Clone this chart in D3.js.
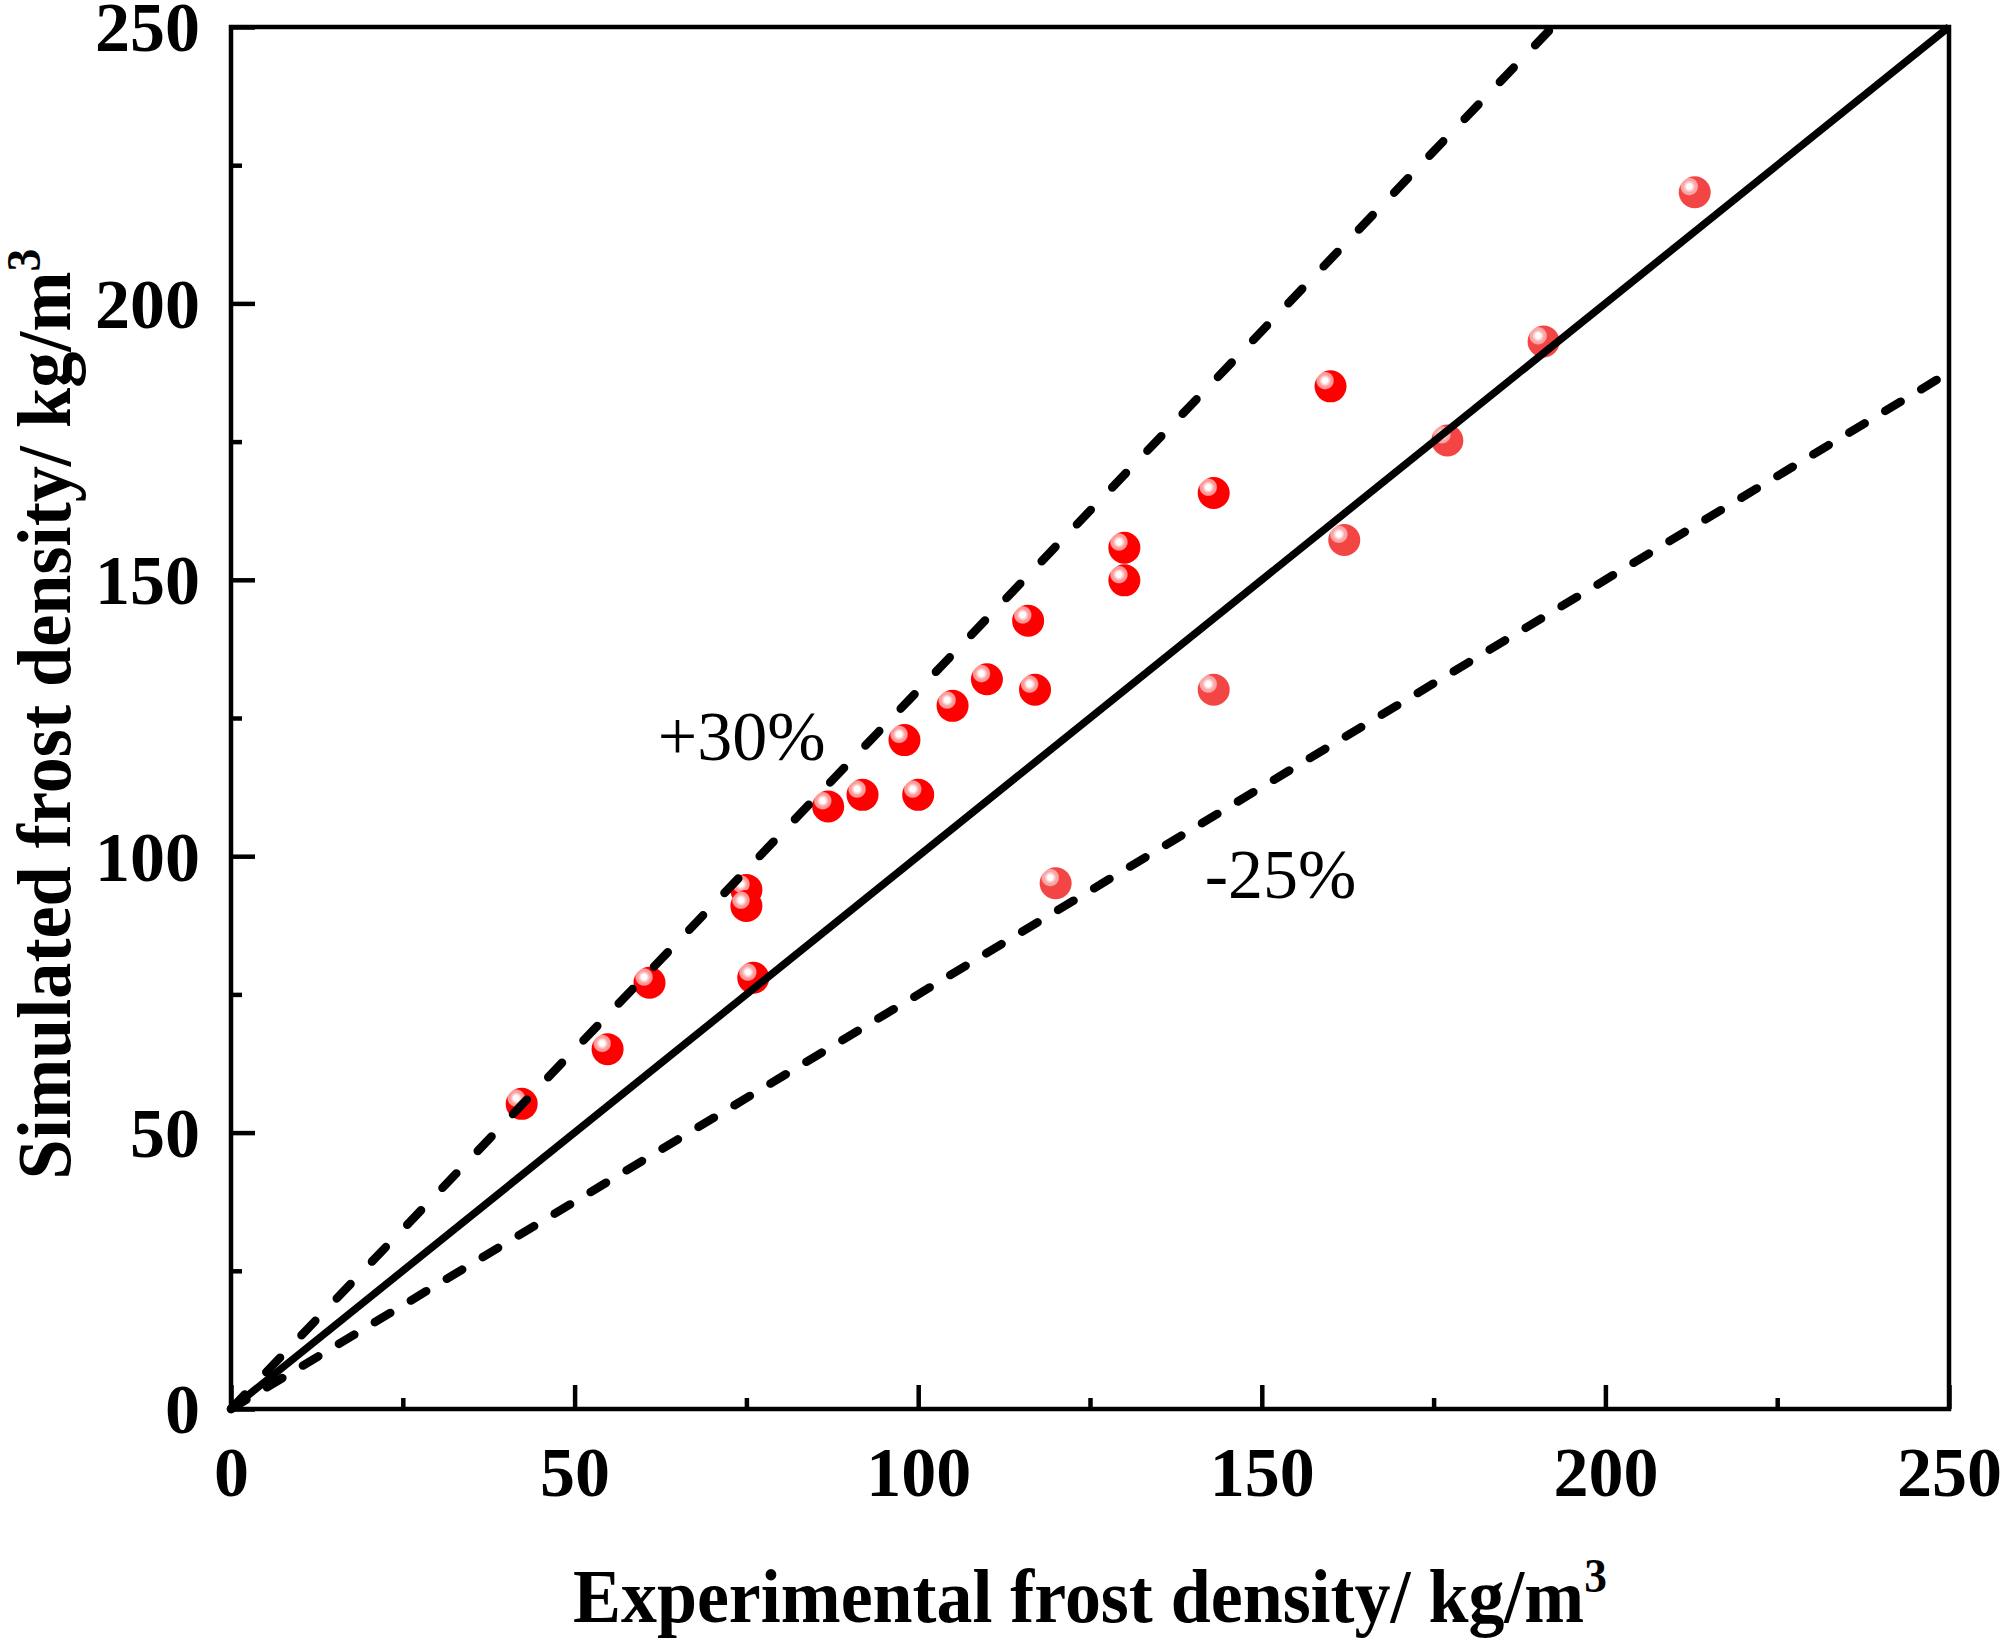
<!DOCTYPE html>
<html>
<head>
<meta charset="utf-8">
<script src="https://cdn.jsdelivr.net/npm/d3@7"></script>
<style>
  body { margin: 0; background: #fff; }
  svg { display: block; }
</style>
</head>
<body>
<script>
// experimental (x) vs simulated (y) frost density, kg/m3
const expBright = [42.3, 54.8, 60.9, 75.0, 75.0, 76.0, 86.9, 91.9, 98.0, 100.0, 105.0, 110.0, 116.0, 117.0, 130.0, 130.0, 143.0, 160.0];
const simBright = [55.2, 65.1, 77.1, 93.9, 91.0, 78.0, 109.0, 111.1, 121.0, 111.1, 127.2, 132.0, 142.6, 130.1, 155.8, 149.9, 165.7, 185.0];
const expLight = [120.0, 143.0, 162.0, 177.0, 191.0, 213.0];
const simLight = [95.1, 130.1, 157.2, 175.2, 193.1, 220.1];
const bandFactors = [1.3, 0.75];          // +30% / -25% lines
const bandLabels = ["+30%", "-25%"];
const bandLabelPos = [[62.1, 117.4], [141.7, 92.4]]; // data coords, label start / baseline
const majorTicks = [0, 50, 100, 150, 200, 250];
const minorTicks = [25, 75, 125, 175, 225];

const W = 2000, H = 1639;
const m = { left: 231, right: 2000 - 1949, top: 27, bottom: 1639 - 1409 };

const svg = d3.select('body').append('svg')
  .attr('width', W)
  .attr('height', H);

const x = d3.scaleLinear().domain([0, 250]).range([m.left, W - m.right]);
const y = d3.scaleLinear().domain([0, 250]).range([H - m.bottom, m.top]);

// sphere-like marker gradients
const defs = svg.append('defs');
function ball(id, base, halo) {
  const g = defs.append('radialGradient').attr('id', id)
    .attr('cx', 0.33).attr('cy', 0.32).attr('fx', 0.33).attr('fy', 0.32).attr('r', 0.29);
  g.append('stop').attr('offset', 0).attr('stop-color', '#ffffff');
  g.append('stop').attr('offset', 0.28).attr('stop-color', '#ffffff');
  g.append('stop').attr('offset', 0.42).attr('stop-color', '#ffd8d8');
  g.append('stop').attr('offset', 0.66).attr('stop-color', halo);
  g.append('stop').attr('offset', 0.86).attr('stop-color', halo);
  g.append('stop').attr('offset', 1).attr('stop-color', base);
}
ball('ballBright', '#ff0000', '#ff9a9a');
ball('ballLight', '#f44545', '#f9a6a6');

const plot = svg.append('g');

plot.selectAll('circle.light')
  .data(d3.zip(expLight, simLight))
  .join('circle')
  .attr('class', 'light')
  .attr('cx', d => x(d[0]))
  .attr('cy', d => y(d[1]))
  .attr('r', 16)
  .attr('fill', 'url(#ballLight)');

plot.selectAll('circle.bright')
  .data(d3.zip(expBright, simBright))
  .join('circle')
  .attr('class', 'bright')
  .attr('cx', d => x(d[0]))
  .attr('cy', d => y(d[1]))
  .attr('r', 16)
  .attr('fill', 'url(#ballBright)');

// 1:1 line
const line = d3.line().x(d => x(d[0])).y(d => y(d[1]));
plot.append('path')
  .attr('d', line([[0, 0], [250, 250]]))
  .attr('fill', 'none')
  .attr('stroke', '#000')
  .attr('stroke-width', 7.5);

// error band lines
const dashes = ['20,31', '18,24'];
bandFactors.forEach((f, i) => {
  const xEnd = Math.min(250, 250 / f);
  plot.append('path')
    .attr('d', line([[0, 0], [xEnd, xEnd * f]]))
    .attr('fill', 'none')
    .attr('stroke', '#000')
    .attr('stroke-width', 8.5)
    .attr('stroke-linecap', 'round')
    .attr('stroke-dasharray', dashes[i]);
  svg.append('text')
    .attr('x', x(bandLabelPos[i][0]))
    .attr('y', y(bandLabelPos[i][1]))
    .attr('font-family', 'Liberation Serif, Times New Roman, serif')
    .attr('font-size', 70)
    .text(bandLabels[i]);
});

// frame
svg.append('rect')
  .attr('x', m.left).attr('y', m.top)
  .attr('width', W - m.left - m.right)
  .attr('height', H - m.top - m.bottom)
  .attr('fill', 'none')
  .attr('stroke', '#000')
  .attr('stroke-width', 4.5);

// axes (inward ticks)
function styleAxis(g) {
  g.select('.domain').remove();
  g.selectAll('line').attr('stroke', '#000').attr('stroke-width', 4.5);
  g.selectAll('text')
    .attr('font-family', 'Liberation Serif, Times New Roman, serif')
    .attr('font-weight', 'bold')
    .attr('font-size', 70)
    .attr('fill', '#000');
}

svg.append('g')
  .attr('transform', `translate(0,${H - m.bottom})`)
  .call(d3.axisBottom(x).tickValues(majorTicks).tickSize(-24).tickPadding(37))
  .call(styleAxis);
svg.append('g')
  .attr('transform', `translate(0,${H - m.bottom})`)
  .call(d3.axisBottom(x).tickValues(minorTicks).tickSize(-11).tickFormat(''))
  .call(styleAxis);

svg.append('g')
  .attr('transform', `translate(${m.left},0)`)
  .call(d3.axisLeft(y).tickValues(majorTicks).tickSize(-24).tickPadding(31))
  .call(styleAxis)
  .selectAll('text').attr('dy', '0.34em');
svg.append('g')
  .attr('transform', `translate(${m.left},0)`)
  .call(d3.axisLeft(y).tickValues(minorTicks).tickSize(-11).tickFormat(''))
  .call(styleAxis);

// axis titles, squeezed to the reference width
function title(parts, cx, cy, rotate, target) {
  const t = svg.append('text')
    .attr('font-family', 'Liberation Serif, Times New Roman, serif')
    .attr('font-weight', 'bold')
    .attr('font-size', 76)
    .attr('text-anchor', 'middle');
  t.append('tspan').text(parts[0]);
  t.append('tspan').attr('font-size', 48).attr('dy', -30).text(parts[1]);
  const w = t.node().getComputedTextLength();
  const k = Math.min(1, target / w);
  t.attr('transform', `translate(${cx},${cy}) rotate(${rotate}) scale(${k},1)`);
}
title(['Experimental frost density/ kg/m', '3'], 1090, 1622, 0, 1034);
title(['Simulated frost density/ kg/m', '3'], 70, 714, -90, 931);
</script>
</body>
</html>
